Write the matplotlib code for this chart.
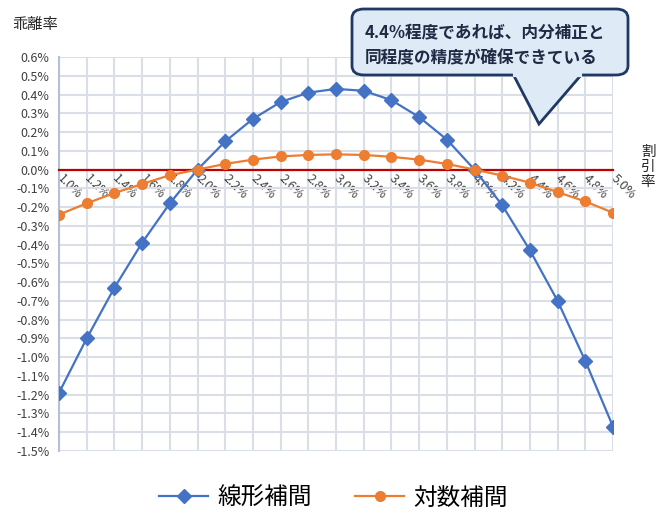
import matplotlib.pyplot as plt
import numpy as np
from matplotlib.patches import FancyBboxPatch, Polygon
from matplotlib.lines import Line2D
from matplotlib.ticker import FuncFormatter

plt.rcParams['font.family'] = ['Noto Sans CJK JP', 'DejaVu Sans']

# 割引率 (%)
rates = [1.0, 1.2, 1.4, 1.6, 1.8, 2.0, 2.2, 2.4, 2.6, 2.8, 3.0,
         3.2, 3.4, 3.6, 3.8, 4.0, 4.2, 4.4, 4.6, 4.8, 5.0]
# 乖離率 (%)
linear = [-1.19, -0.90, -0.63, -0.39, -0.18, 0.0, 0.15, 0.27, 0.36, 0.41, 0.43,
          0.42, 0.37, 0.28, 0.16, 0.0, -0.19, -0.43, -0.70, -1.02, -1.37]
logint = [-0.24, -0.18, -0.125, -0.077, -0.03, 0.0, 0.03, 0.053, 0.07, 0.078, 0.081,
          0.078, 0.068, 0.053, 0.03, 0.0, -0.032, -0.07, -0.12, -0.17, -0.23]

BLUE = '#4472C4'
ORANGE = '#ED7D31'
GRID = '#D9DEE7'

fig = plt.figure(figsize=(6.67, 5.11), dpi=100)
ax = fig.add_axes([59 / 667, 1 - 451 / 511, (613 - 59) / 667, (451 - 57) / 511])

ax.set_xlim(1.0, 5.0)
ax.set_ylim(-1.5, 0.6)
ax.set_xticks(rates)
ax.set_yticks(np.round(np.arange(-1.5, 0.61, 0.1), 1))
ax.yaxis.set_major_formatter(FuncFormatter(lambda v, p: f"{v:.1f}%".replace('-0.0', '0.0')))
ax.set_xticklabels([f"{r:.1f}%" for r in rates])

ax.grid(True, color=GRID, lw=1.5)
ax.set_axisbelow(True)
for s in ['top', 'right']:
    ax.spines[s].set_visible(False)
ax.spines['left'].set_color('#B4C0D4')
ax.spines['left'].set_linewidth(1.5)
ax.spines['bottom'].set_position(('data', 0))
ax.spines['bottom'].set_color('#C00000')
ax.spines['bottom'].set_linewidth(1.6)
ax.spines['bottom'].set_zorder(2.5)

ax.tick_params(axis='y', length=0, labelsize=9, colors='#404040', pad=7)
ax.tick_params(axis='x', length=0, labelsize=9, colors='#404040', pad=5)
for lbl in ax.get_xticklabels():
    lbl.set_rotation(-45)
    lbl.set_rotation_mode('anchor')
    lbl.set_ha('left')
    lbl.set_va('center')
    lbl.set_color('#404040')

ax.plot(rates, linear, color=BLUE, lw=1.6, marker='D', ms=7, zorder=4, label='線形補間')
ax.plot(rates, logint, color=ORANGE, lw=1.6, marker='o', ms=7, zorder=4, label='対数補間')

fig.text(12 / 667, 1 - 25 / 511, '乖離率', fontsize=11, va='center', ha='left', color='#262626')
fig.text(648 / 667, 1 - 167 / 511, '割\n引\n率', fontsize=10.5, va='center', ha='center',
         color='#262626', linespacing=1.05)

# callout
def fx(x):
    return x / 667

def fy(y):
    return 1 - y / 511

box = FancyBboxPatch((fx(352), fy(75)), fx(628) - fx(352), fy(9) - fy(75),
                     boxstyle='round,pad=0,rounding_size=0.018',
                     transform=fig.transFigure, facecolor='#DEEAF6', edgecolor='#1F3864',
                     lw=2, zorder=10)
fig.add_artist(box)
tri = Polygon([(fx(513), fy(74)), (fx(539), fy(124)), (fx(582), fy(74))],
              closed=False, transform=fig.transFigure, facecolor='#DEEAF6',
              edgecolor='#1F3864', lw=2, zorder=11, joinstyle='miter')
fig.add_artist(tri)
fig.add_artist(Line2D([fx(515), fx(580)], [fy(75), fy(75)], transform=fig.transFigure,
                      color='#DEEAF6', lw=3, zorder=12))
fig.text(fx(365), fy(32), '4.4%程度であれば、内分補正と', fontsize=12, fontweight='bold',
         color='#1F2A44', va='center', ha='left', zorder=13)
fig.text(fx(365), fy(57), '同程度の精度が確保できている', fontsize=12, fontweight='bold',
         color='#1F2A44', va='center', ha='left', zorder=13)

fig.legend(handles=ax.get_lines(), loc='center', bbox_to_anchor=(0.5, 1 - 498 / 511),
           ncol=2, frameon=False, fontsize=17, handlelength=2.1, columnspacing=1.8,
           handletextpad=0.4)

fig.savefig('out.png', dpi=100)
